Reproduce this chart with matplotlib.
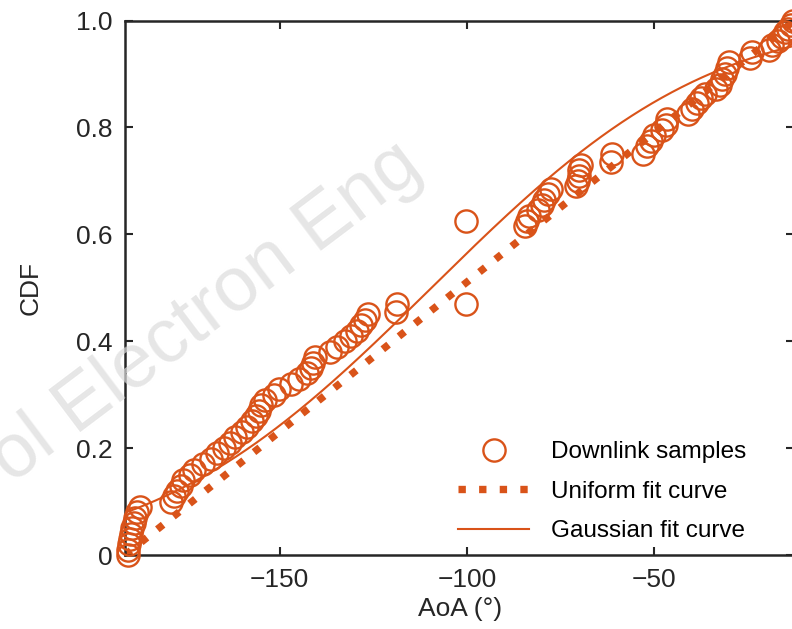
import math
import numpy as np
import matplotlib
matplotlib.use("Agg")
import matplotlib.pyplot as plt

# measured downlink angle-of-arrival samples (deg) and their empirical CDF
aoa = [-190.5, -190.5, -190.2, -190.0, -189.7, -189.4, -189.0, -188.6, -188.0, -187.2,
       -179.0, -178.3, -177.5, -176.5, -175.8, -174.0, -172.8, -170.5, -168.5, -166.8,
       -165.0, -163.2, -162.0, -160.0, -158.8, -157.5, -156.3, -155.6, -155.0, -154.0,
       -151.5, -150.2, -147.0, -145.0, -142.8, -141.8, -141.2, -140.6, -136.5, -134.8,
       -132.5, -131.0, -129.3, -128.2, -127.3, -126.5, -119.0, -118.8, -100.3, -100.2,
       -84.5, -84.0, -83.5, -81.0, -80.0, -79.5, -78.5, -77.5,
       -70.8, -70.5, -70.2, -70.0, -69.5, -61.5, -61.2,
       -53.0, -52.0, -51.0, -50.0, -48.0, -47.0, -46.5,
       -41.0, -40.0, -38.5, -37.5, -36.5, -33.5, -32.5, -31.8, -31.0, -30.5, -30.0,
       -24.5, -24.0, -19.5, -18.5, -17.0, -16.0, -15.0, -14.2, -13.5, -13.0]
cdf = [0.000, 0.010, 0.020, 0.030, 0.040, 0.050, 0.060, 0.070, 0.080, 0.090,
       0.100, 0.110, 0.120, 0.130, 0.140, 0.150, 0.160, 0.170, 0.180, 0.190,
       0.200, 0.210, 0.220, 0.230, 0.240, 0.250, 0.260, 0.270, 0.280, 0.290,
       0.300, 0.310, 0.320, 0.330, 0.340, 0.350, 0.360, 0.370, 0.380, 0.390,
       0.400, 0.410, 0.420, 0.430, 0.440, 0.450, 0.455, 0.470, 0.470, 0.625,
       0.615, 0.625, 0.635, 0.645, 0.655, 0.665, 0.675, 0.685,
       0.690, 0.700, 0.710, 0.720, 0.730, 0.735, 0.750,
       0.750, 0.765, 0.775, 0.785, 0.795, 0.805, 0.815,
       0.825, 0.835, 0.845, 0.855, 0.862, 0.872, 0.880, 0.890, 0.900, 0.912, 0.922,
       0.930, 0.942, 0.945, 0.955, 0.962, 0.970, 0.978, 0.985, 0.992, 1.000]

# fitted parameters
uni_lo, uni_hi = -191.3, -12.6
gauss_mu, gauss_sigma = -109.5, 58.0

xticks = [-150, -100, -50]
yticks = [0, 0.2, 0.4, 0.6, 0.8, 1.0]
ytick_labels = ["0", "0.2", "0.4", "0.6", "0.8", "1.0"]

col = "#D95319"
dark = "#262626"

plt.rcParams["font.family"] = ["Liberation Sans", "DejaVu Sans"]

fig = plt.figure(figsize=(7.92, 6.29), dpi=100)
ax = fig.add_axes([0.158, 0.1176, 0.845, 0.8498])

xs = np.linspace(uni_lo, uni_hi, 400)
gauss = [0.5 * (1 + math.erf((x - gauss_mu) / (gauss_sigma * math.sqrt(2)))) for x in xs]
uni = (xs - uni_lo) / (uni_hi - uni_lo)

ax.plot(aoa, cdf, "o", mfc="none", mec=col, ms=16, mew=1.7, clip_on=False,
        label="Downlink samples", zorder=3)
ax.plot(xs, uni, color=col, lw=5.3, linestyle=(0, (1, 1.8)), label="Uniform fit curve")
ax.plot(xs, gauss, color=col, lw=1.5, label="Gaussian fit curve")

ax.set_xlim(uni_lo, uni_hi)
ax.set_ylim(0, 1)
ax.set_xticks(xticks)
ax.set_yticks(yticks)
ax.set_yticklabels(ytick_labels)
ax.tick_params(direction="in", length=6, width=1.5, colors=dark, labelsize=19,
               top=True, right=True, pad=9)
for sp in ax.spines.values():
    sp.set_linewidth(1.8)
    sp.set_color(dark)

ax.set_xlabel("AoA (°)", fontsize=19, color=dark, labelpad=4)
ax.set_ylabel("CDF", fontsize=19, color=dark, labelpad=24)

ax.legend(loc="lower right", bbox_to_anchor=(0.953, -0.008), frameon=False, fontsize=17.5,
          handlelength=2.9, labelspacing=0.72, handletextpad=0.9, borderaxespad=0.3)

fig.text(0.014, 0.23, "ol Electron Eng", fontsize=55, color="#dcdcdc", alpha=0.7,
         rotation=37, rotation_mode="anchor", zorder=10)

fig.savefig("out.png", dpi=100)
